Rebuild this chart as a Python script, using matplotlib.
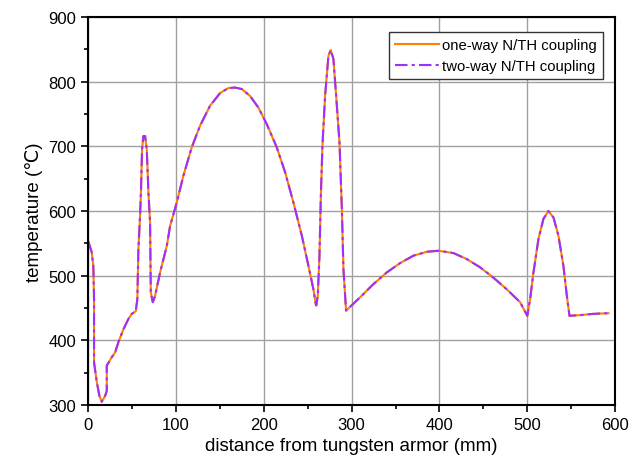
import numpy as np
import matplotlib.pyplot as plt

# ----------------------------
# Data
# ----------------------------

distance = [
    0.3, 4.2, 6.0, 6.8, 6.8, 9.9, 12.9, 15.6, 19.4, 21.3, 21.3, 27.0, 30.7,
    34.5, 40.2, 45.9, 49.7, 54.3, 56.1, 57.3, 59.2, 60.3, 61.5, 63.0, 64.9,
    66.8, 68.7, 70.6, 71.4, 73.7, 76.3, 82.0, 89.6, 93.4, 101.0, 108.5,
    118.0, 127.5, 138.9, 150.3, 159.7, 167.4, 175.0, 184.4, 193.9, 203.4,
    214.8, 224.3, 233.7, 243.3, 250.8, 256.5, 259.2, 259.8, 261.5, 263.4,
    265.0, 266.8, 269.8, 273.6, 276.3, 279.3, 282.4, 286.2, 288.9, 290.7,
    293.7, 309.7, 324.8, 340.0, 355.2, 370.4, 385.6, 398.8, 415.9, 431.0,
    446.2, 461.4, 476.6, 491.8, 500.0, 503.2, 507.0, 512.7, 518.4, 524.0,
    529.8, 535.4, 541.1, 545.0, 548.0, 560.0, 575.3, 592.4,
]

temp_one_way = [
    553, 536, 515, 464, 366, 336, 314, 305, 314, 322, 361, 374, 381,
    397, 417, 433, 441, 445, 464, 541, 593, 634, 696, 716, 716,
    696, 629, 582, 474, 459, 469, 505, 546, 577, 613.5, 654.6,
    698.5, 732, 763, 782.5, 790.2, 791, 788.7, 778, 760, 734.5,
    698.5, 660, 613.5, 562, 515.5, 479, 456, 454, 469, 531,
    624, 701, 778, 840, 849, 835, 778, 706, 603, 510,
    446, 466.6, 487, 505, 519.5, 531, 537, 538.6, 535, 525.8,
    513, 497, 479, 459, 438, 464, 505, 557, 588, 600,
    590, 562, 515, 469, 438, 439, 441, 442,
]

# two-way coupling overlays the one-way result
temp_two_way = list(temp_one_way)

# ----------------------------
# Plot
# ----------------------------

plt.rcParams['font.family'] = ['Liberation Sans', 'DejaVu Sans']

fig = plt.figure(figsize=(6.29, 4.64), dpi=100)
ax = fig.add_axes([0.140, 0.125, 0.838, 0.836])

ax.plot(distance, temp_one_way, color='#FF7F00', linewidth=1.5,
        label='one-way N/TH coupling')
ax.plot(distance, temp_two_way, color='#9B30FF', linewidth=1.5,
        linestyle=(0, (6, 2, 1.5, 2)), label='two-way N/TH coupling')

ax.set_xlim(0, 600)
ax.set_ylim(300, 900)
ax.set_xticks(np.arange(0, 601, 100))
ax.set_yticks(np.arange(300, 901, 100))
ax.set_xticks(np.arange(50, 600, 100), minor=True)
ax.set_yticks(np.arange(350, 900, 100), minor=True)
ax.tick_params(which='major', direction='out', length=5, width=1.2,
               labelsize=12, top=False, right=False)
ax.tick_params(which='minor', direction='out', length=3, width=1.2,
               top=False, right=False)
ax.grid(True, which='major', color='#A0A0A0', linewidth=1.0)

for sp in ax.spines.values():
    sp.set_linewidth(1.5)

ax.set_xlabel('distance from tungsten armor (mm)', fontsize=13.5)
ax.set_ylabel('temperature (℃)', fontsize=13.5)

leg = ax.legend(loc='upper right', bbox_to_anchor=(0.977, 0.962),
                fontsize=10.7, fancybox=False, framealpha=1,
                edgecolor='#333333', handlelength=3.0, borderpad=0.4,
                labelspacing=0.5, handletextpad=0.2, borderaxespad=0)
leg.get_frame().set_linewidth(1.0)

fig.savefig('out.png', dpi=100)
